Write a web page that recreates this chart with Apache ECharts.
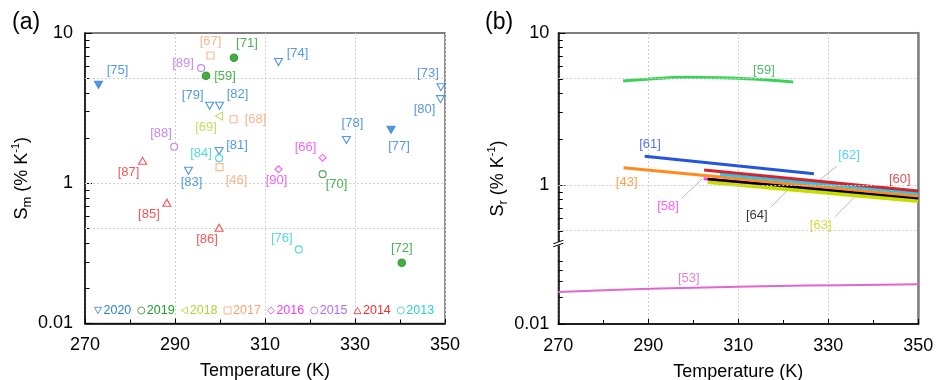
<!DOCTYPE html>
<html><head><meta charset="utf-8">
<script src="https://cdn.jsdelivr.net/npm/echarts@6/dist/echarts.min.js"></script>
<style>html,body{margin:0;padding:0;background:#fff}#c{width:936px;height:380px}</style>
</head><body><div id="c"></div><script>
// ---------------- data ----------------
const xMin = 270, xMax = 350;
const yTickLabels = [0.01, 1, 10];
const yMinorA = [9, 8, 7, 6, 5, 4, 3, 2, 0.9, 0.8, 0.7, 0.6, 0.5, 0.4, 0.3, 0.2];
const yMinorB = [9, 8, 7, 6, 5, 4, 3, 2, 0.9, 0.8, 0.7, 0.6, 0.5, 0.05, 0.04, 0.03, 0.02];
const yGridVals = [5, 1, 0.5];
const years = ['2020', '2019', '2018', '2017', '2016', '2015', '2014', '2013'];

// panel (a): [temperature K, Sm %/K, reference]
const pts2020 = [[273, 4.52, '[75]'], [313, 6.41, '[74]'], [349.1, 4.36, '[73]'], [349, 3.63, '[80]'],
  [297.7, 3.28, '[79]'], [299.9, 3.28, '[82]'], [328.1, 1.94, '[78]'], [338, 2.27, '[77]'],
  [299.8, 1.64, '[81]'], [293, 1.21, '[83]']];
const filled2020 = ['[75]', '[77]'];
const pts2019 = [[303.1, 6.85, '[71]'], [296.9, 5.19, '[59]'], [322.8, 1.15, '[70]'], [340.4, 0.296, '[72]']];
const filled2019 = ['[71]', '[59]', '[72]'];
const pts2018 = [[299.8, 2.80, '[69]']];
const pts2017 = [[297.9, 7.09, '[67]'], [303, 2.67, '[68]'], [299.9, 1.28, '[46]']];
const pts2016 = [[322.8, 1.48, '[66]'], [313, 1.24, '[90]']];
const pts2015 = [[295.8, 5.84, '[89]'], [289.8, 1.75, '[88]']];
const pts2014 = [[282.8, 1.41, '[87]'], [288.2, 0.743, '[85]'], [299.8, 0.506, '[86]']];
const pts2013 = [[299.8, 1.47, '[84]'], [317.5, 0.363, '[76]']];

// panel (b): temperature and Sr per reference
const tB59 = [284.4, 291.1, 298.5, 305.9, 313.3, 322.2];
const sB59 = [4.83, 5.00, 5.11, 5.08, 4.98, 4.76];
const tB61 = [289.2, 326.8], sB61 = [1.545, 1.187];
const tB43 = [284.5, 350], sB43 = [1.30, 0.847];
const tB58 = [302.3, 350], sB58 = [1.10, 0.84];
const tB63 = [303.2, 350], sB63 = [1.05, 0.788];
const tB64 = [303.2, 350], sB64 = [1.095, 0.818];
const tB62 = [305.9, 350], sB62 = [1.175, 0.882];
const tB60 = [302.4, 350], sB60 = [1.255, 0.913];
const tB53 = [270, 285, 300, 325, 350], sB53 = [0.0227, 0.0241, 0.0253, 0.0267, 0.0276];

// ---------------- styles / annotation placement ----------------
const FONT = 'Liberation Sans, Arial, sans-serif';
const yearColors = ['#2a7fdc', '#1fa02a', '#b4d23c', '#f7a26e', '#f53cf0', '#b46cf0', '#f52d2d', '#2ccfd2'];
const yearSymbols = ['triangle', 'circle', 'triangle', 'rect', 'diamond', 'circle', 'triangle', 'circle'];
const yearRotate = [180, 0, 90, 0, 0, 0, 0, 0];
const legendIcons = ['path://M0,0L10,0L5,9Z', 'circle', 'path://M9,0L9,10L0,5Z', 'rect', 'diamond', 'circle', 'path://M5,0L10,9L0,9Z', 'circle'];
const yearPts = [pts2020, pts2019, pts2018, pts2017, pts2016, pts2015, pts2014, pts2013];
const labelOffsets = {
  '[75]': [19, -14], '[74]': [19, -9], '[73]': [-13, -14], '[80]': [-16, 10], '[79]': [-17, -10],
  '[82]': [18, -11], '[78]': [6, -17], '[77]': [8, 17], '[81]': [18, -6], '[83]': [3, 12],
  '[71]': [13, -14], '[59]': [19, 1], '[70]': [14, 10], '[72]': [0, -14], '[69]': [-13, 11],
  '[67]': [0, -14], '[68]': [22, 0], '[46]': [17, 13], '[66]': [-17, -10], '[90]': [-2, 11],
  '[89]': [-18, -5], '[88]': [-13, -13], '[87]': [-14, 12], '[85]': [-18, 12], '[86]': [-12, 12],
  '[84]': [-18, -5], '[76]': [-17, -11]
};
const linesB = [
  {ref: '[63]', t: tB63, s: sB63, color: '#c8dc00', w: 4.5},
  {ref: '[58]', t: tB58, s: sB58, color: '#ff40f0', w: 3},
  {ref: '[64]', t: tB64, s: sB64, color: '#000000', w: 2.5},
  {ref: '[43]', t: tB43, s: sB43, color: '#ff8a1e', w: 3},
  {ref: '[62]', t: tB62, s: sB62, color: '#27c8f0', w: 3},
  {ref: '[60]', t: tB60, s: sB60, color: '#d8232a', w: 3},
  {ref: '[61]', t: tB61, s: sB61, color: '#2456dc', w: 3},
  {ref: '[59]', t: tB59, s: sB59, color: '#3ad35a', w: 3, smooth: true},
  {ref: '[53]', t: tB53, s: sB53, color: '#e466cc', w: 2, smooth: true}
];
const labelAnchorsB = [
  ['[59]', 315.7, 5.71, '#2aa84a'], ['[61]', 290.4, 1.86, '#2456dc'], ['[43]', 285.2, 1.035, '#ff8a1e'],
  ['[58]', 294.4, 0.727, '#ff33ff'], ['[64]', 314.1, 0.635, '#000000'], ['[63]', 328.3, 0.545, '#c8d200'],
  ['[62]', 334.6, 1.575, '#27c8f0'], ['[60]', 345.9, 1.095, '#d8232a'], ['[53]', 299, 0.0322, '#e060d0']
];
const leadersB = [
  [[331.9, 1.334], [327.0, 1.015]],
  [[317.2, 0.713], [321.6, 0.966]],
  [[331.5, 0.618], [335.9, 0.838]],
  [[297.4, 0.818], [301.9, 1.09]]
];

// ---------------- axis transforms (broken log axes) ----------------
const A_MIN = -0.933;               // panel (a) bottom, labelled 0.01
function tA(v) { return v <= 0.01 ? A_MIN : Math.log10(v); }
const B_MIN = -0.9145;              // panel (b) bottom = 0.01
function tB(v) { const l = Math.log10(v); return l >= -0.5 ? l : B_MIN + (l + 2) * 90 / 152; }
const BREAK_T = -0.385;

function yLabelFmt(fn) {
  return function (val) {
    for (const s of yTickLabels) { if (Math.abs(fn(s) - val) < 1e-6) return String(s); }
    return '';
  };
}

function xAxisCfg(gi) {
  return {
    type: 'value', gridIndex: gi, min: xMin, max: xMax, interval: 20,
    axisLine: {onZero: false, lineStyle: {color: '#000', width: 1.5}},
    axisTick: {inside: true, length: 5, lineStyle: {color: '#000', width: 1}},
    minorTick: {show: true, splitNumber: 2, length: 4, lineStyle: {color: '#000', width: 1}},
    axisLabel: {fontSize: 18, color: '#000', margin: 13, fontFamily: FONT},
    splitLine: {show: true, lineStyle: {color: '#cfcfcf', type: [2, 2], width: 1}},
    minorSplitLine: {show: false},
    name: 'Temperature (K)', nameLocation: 'middle', nameGap: 39,
    nameTextStyle: {fontSize: 18, color: '#000', fontFamily: FONT}
  };
}
function yRich(sub) {
  return {
    name: '{s|S}{sub|' + sub + '}{s| (% K}{sup|-1}{s|)}',
    nameLocation: 'middle', nameGap: 44,
    nameTextStyle: {
      fontFamily: FONT, color: '#000',
      rich: {
        s: {fontSize: 18, lineHeight: 24, fontFamily: FONT, color: '#000'},
        sub: {fontSize: 13, lineHeight: 13, verticalAlign: 'bottom', fontFamily: FONT, color: '#000'},
        sup: {fontSize: 11, lineHeight: 11, verticalAlign: 'top', fontFamily: FONT, color: '#000'}
      }
    }
  };
}
function yMain(gi, fn, minV, sub, margin) {
  return Object.assign({
    type: 'value', gridIndex: gi, min: minV, max: 1,
    axisLine: {onZero: false, lineStyle: {color: '#000', width: 1.5}},
    axisTick: {inside: true, length: 7, customValues: yTickLabels.map(fn), lineStyle: {color: '#000'}},
    axisLabel: {customValues: yTickLabels.map(fn), formatter: yLabelFmt(fn), fontSize: 18, color: '#000', margin: margin, fontFamily: FONT},
    splitLine: {show: false}
  }, yRich(sub));
}
function yMinor(gi, fn, minV, minors) {
  return {
    type: 'value', gridIndex: gi, min: minV, max: 1, position: 'left', offset: 0,
    axisLine: {show: false},
    axisTick: {inside: true, length: 4.5, customValues: minors.map(fn), lineStyle: {color: '#000'}},
    axisLabel: {show: false}, splitLine: {show: false}
  };
}

const series = [];
// grid lines (a)
series.push({type: 'line', xAxisIndex: 0, yAxisIndex: 0, data: [], z: 1, silent: true,
  markLine: {silent: true, symbol: ['none', 'none'], label: {show: false},
    lineStyle: {color: '#cfcfcf', type: [2, 2], width: 1},
    data: yGridVals.map(v => ({yAxis: tA(v)}))}});
// grid lines (b)
series.push({type: 'line', xAxisIndex: 1, yAxisIndex: 2, data: [], z: 1, silent: true,
  markLine: {silent: true, symbol: ['none', 'none'], label: {show: false},
    lineStyle: {color: '#cfcfcf', type: [2, 2], width: 1},
    data: yGridVals.map(v => ({yAxis: tB(v)}))}});

years.forEach((yr, i) => {
  const c = yearColors[i];
  const filledList = i === 0 ? filled2020 : (i === 1 ? filled2019 : []);
  series.push({
    type: 'scatter', name: yr, xAxisIndex: 0, yAxisIndex: 0, z: 5,
    symbol: yearSymbols[i], symbolRotate: yearRotate[i],
    symbolSize: yearSymbols[i] === 'triangle' ? [8, 7] : 7,
    itemStyle: {color: '#fff', borderColor: i === 1 ? '#2e8f2e' : c, borderWidth: 1.1},
    label: {show: true, formatter: '{b}', position: 'inside', color: c, fontSize: 13, fontFamily: FONT},
    data: yearPts[i].map(p => {
      const d = {name: p[2], value: [p[0], tA(p[1])], label: {offset: labelOffsets[p[2]] || [0, -12]}};
      if (filledList.indexOf(p[2]) >= 0) {
        d.itemStyle = {color: i === 1 ? '#1a961a' : c, borderColor: i === 1 ? '#1a961a' : c};
        d.symbolSize = i === 1 ? 7.5 : [8, 7];
      }
      return d;
    })
  });
});

linesB.forEach(L => {
  series.push({
    type: 'line', name: L.ref, xAxisIndex: 1, yAxisIndex: 2, showSymbol: false, symbol: 'none',
    smooth: L.smooth ? 0.4 : false, z: 3, silent: true,
    lineStyle: {color: L.color, width: L.w},
    data: L.t.map((t, k) => [t, tB(L.s[k])])
  });
});
leadersB.forEach(ld => {
  series.push({type: 'line', xAxisIndex: 1, yAxisIndex: 2, symbol: 'none', z: 2, silent: true,
    lineStyle: {color: '#b0b0b0', width: 0.9},
    data: ld.map(p => [p[0], tB(p[1])])});
});
series.push({type: 'scatter', xAxisIndex: 1, yAxisIndex: 2, symbolSize: 0, z: 6, silent: true,
  label: {show: true, position: 'inside', formatter: '{b}', fontSize: 13, fontFamily: FONT},
  data: labelAnchorsB.map(a => ({name: a[0], value: [a[1], tB(a[2])], label: {color: a[3]}}))});

const option = {
  animation: false,
  textStyle: {fontFamily: FONT},
  title: [
    {text: '(a)', left: 7, top: 6, textStyle: {fontSize: 23, fontWeight: 'normal', color: '#000', fontFamily: FONT}},
    {text: '(b)', left: 480, top: 6, textStyle: {fontSize: 23, fontWeight: 'normal', color: '#000', fontFamily: FONT}}
  ],
  grid: [
    {left: 85, top: 33, width: 360, height: 290.5, show: true, borderColor: '#555', borderWidth: 1.3,
      backgroundColor: 'transparent', outerBoundsMode: 'none', containLabel: false},
    {left: 558.3, top: 33, width: 360, height: 291, show: true, borderColor: '#555', borderWidth: 1.3,
      backgroundColor: 'transparent', outerBoundsMode: 'none', containLabel: false}
  ],
  legend: {
    data: years.map((y, i) => ({
      name: y, icon: legendIcons[i], textStyle: {color: yearColors[i]},
      itemStyle: {color: '#fff', borderColor: i === 1 ? '#2e8f2e' : yearColors[i], borderWidth: 1}
    })),
    left: 89, top: 299, itemWidth: 7, itemHeight: 7, itemGap: 6, selectedMode: false,
    textStyle: {fontSize: 12.5, fontFamily: FONT, padding: [0, 0, 0, -3]}
  },
  xAxis: [xAxisCfg(0), xAxisCfg(1)],
  yAxis: [
    yMain(0, tA, A_MIN, 'm', 12),
    yMinor(0, tA, A_MIN, yMinorA),
    yMain(1, tB, B_MIN, 'r', 9),
    yMinor(1, tB, B_MIN, yMinorB),
    {type: 'value', gridIndex: 1, min: B_MIN, max: 1, position: 'right',
      axisLine: {show: true, onZero: false, lineStyle: {color: '#808080', width: 2.5}},
      axisTick: {show: false}, axisLabel: {show: false}, splitLine: {show: false}}
  ],
  series: series
};

const chart = echarts.init(document.getElementById('c'), null, {renderer: 'canvas'});
chart.setOption(option);
// axis break mark on panel (b)
const bp = chart.convertToPixel({xAxisIndex: 1, yAxisIndex: 2}, [xMin, BREAK_T]);
chart.setOption({graphic: [
  {type: 'rect', shape: {x: bp[0] - 2, y: bp[1] - 1.8, width: 4, height: 3.6}, style: {fill: '#fff'}, z: 100},
  {type: 'line', shape: {x1: bp[0] - 5, y1: bp[1] + 0.3, x2: bp[0] + 5, y2: bp[1] - 3.3}, style: {stroke: '#000', lineWidth: 1}, z: 101},
  {type: 'line', shape: {x1: bp[0] - 5, y1: bp[1] + 3.3, x2: bp[0] + 5, y2: bp[1] - 0.3}, style: {stroke: '#000', lineWidth: 1}, z: 101}
]});
</script></body></html>
